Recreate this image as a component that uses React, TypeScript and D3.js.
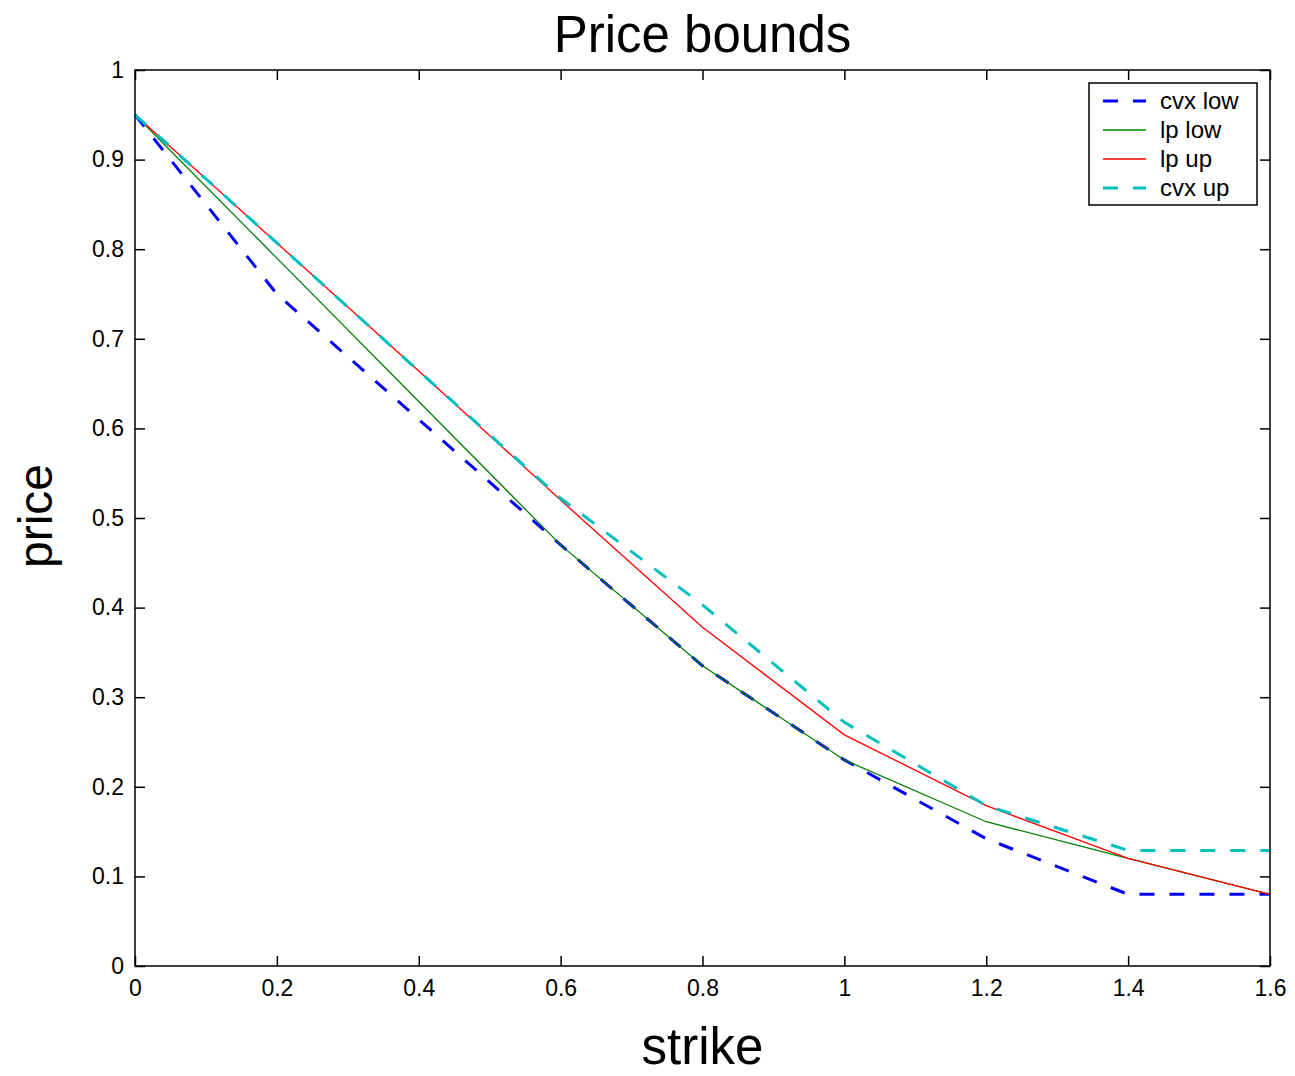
import React, { useRef, useEffect } from 'react';
import * as d3 from 'd3';

// strike grid
const strikes = [0, 0.2, 0.4, 0.6, 0.8, 1.0, 1.2, 1.4, 1.6];

// series values
const cvxLow = [0.95, 0.75, 0.61, 0.47, 0.335, 0.23, 0.142, 0.08, 0.08];
const lpLow = [0.95, 0.79, 0.63, 0.47, 0.335, 0.23, 0.161, 0.12, 0.08];
const lpUp = [0.95, 0.807, 0.664, 0.52, 0.378, 0.258, 0.179, 0.12, 0.08];
const cvxUp = [0.95, 0.807, 0.664, 0.522, 0.403, 0.272, 0.179, 0.129, 0.129];

const xTicks = [0, 0.2, 0.4, 0.6, 0.8, 1, 1.2, 1.4, 1.6];
const yTicks = [0, 0.1, 0.2, 0.3, 0.4, 0.5, 0.6, 0.7, 0.8, 0.9, 1];

const seriesList = [
  { name: 'cvx low', values: cvxLow, color: '#0000ff', width: 3, dash: '15,15' },
  { name: 'lp low', values: lpLow, color: '#008000', width: 1.3, dash: null },
  { name: 'lp up', values: lpUp, color: '#ff0000', width: 1.3, dash: null },
  { name: 'cvx up', values: cvxUp, color: '#00bfbf', width: 3, dash: '15,15' },
];

const FONT = '"Liberation Sans", Arial, Helvetica, sans-serif';

const App = () => {
  const ref = useRef<SVGSVGElement | null>(null);

  useEffect(() => {
    if (!ref.current) return;
    const svg = d3.select(ref.current);
    svg.selectAll('*').remove();

    const W = 1295, H = 1076;
    const margin = { top: 70, right: 25, bottom: 110, left: 135 };
    const width = W - margin.left - margin.right;
    const height = H - margin.top - margin.bottom;

    const x = d3.scaleLinear().domain([0, 1.6]).range([0, width]);
    const y = d3.scaleLinear().domain([0, 1]).range([height, 0]);

    const g = svg.append('g').attr('transform', `translate(${margin.left},${margin.top})`);

    // data lines
    const line = d3.line<number>()
      .x((_, i) => x(strikes[i]))
      .y(d => y(d));

    seriesList.forEach(s => {
      g.append('path')
        .datum(s.values)
        .attr('fill', 'none')
        .attr('stroke', s.color)
        .attr('stroke-width', s.width)
        .attr('stroke-dasharray', s.dash ?? null)
        .attr('d', line);
    });

    // inward ticks on all four sides (matlab style)
    const tickLen = 10;
    const axisLabel = (sel: any) => sel.attr('font-family', FONT).attr('font-size', 23).attr('fill', '#000');

    const bottom = g.append('g')
      .attr('transform', `translate(0,${height})`)
      .call(d3.axisBottom(x).tickValues(xTicks).tickSize(-tickLen).tickPadding(14).tickFormat(d => d3.format('~g')(d as number)));
    axisLabel(bottom.selectAll('text'));
    const top = g.append('g')
      .call(d3.axisTop(x).tickValues(xTicks).tickSize(-tickLen).tickFormat(() => ''));
    const left = g.append('g')
      .call(d3.axisLeft(y).tickValues(yTicks).tickSize(-tickLen).tickPadding(11).tickFormat(d => d3.format('~g')(d as number)));
    axisLabel(left.selectAll('text'));
    const right = g.append('g')
      .attr('transform', `translate(${width},0)`)
      .call(d3.axisRight(y).tickValues(yTicks).tickSize(-tickLen).tickFormat(() => ''));

    [bottom, top, left, right].forEach(a => {
      a.select('.domain').remove();
      a.selectAll('.tick line').attr('stroke', '#000').attr('stroke-width', 1.5);
    });

    // axes box
    g.append('rect')
      .attr('width', width)
      .attr('height', height)
      .attr('fill', 'none')
      .attr('stroke', '#000')
      .attr('stroke-width', 1.5);

    // title and axis labels
    svg.append('text')
      .attr('x', margin.left + width / 2)
      .attr('y', 52)
      .attr('text-anchor', 'middle')
      .attr('font-family', FONT)
      .attr('font-size', 51)
      .text('Price bounds');

    svg.append('text')
      .attr('x', margin.left + width / 2)
      .attr('y', 1064)
      .attr('text-anchor', 'middle')
      .attr('font-family', FONT)
      .attr('font-size', 51)
      .text('strike');

    svg.append('text')
      .attr('transform', `translate(52,${margin.top + height / 2 - 2}) rotate(-90)`)
      .attr('text-anchor', 'middle')
      .attr('font-family', FONT)
      .attr('font-size', 48)
      .text('price');

    // legend
    const lg = svg.append('g').attr('transform', 'translate(1089,83)');
    lg.append('rect')
      .attr('width', 168)
      .attr('height', 122)
      .attr('fill', '#fff')
      .attr('stroke', '#000')
      .attr('stroke-width', 1.5);
    seriesList.forEach((s, i) => {
      const ly = 18 + i * 29;
      lg.append('line')
        .attr('x1', 14).attr('x2', 57)
        .attr('y1', ly).attr('y2', ly)
        .attr('stroke', s.color)
        .attr('stroke-width', s.dash ? 3 : 1.3)
        .attr('stroke-dasharray', s.dash ?? null);
      lg.append('text')
        .attr('x', 71)
        .attr('y', ly + 8)
        .attr('font-family', FONT)
        .attr('font-size', 24)
        .text(s.name);
    });
  }, []);

  return (
    <svg ref={ref} width={1295} height={1076} style={{ display: 'block', margin: -8, background: '#fff' }} />
  );
};

export default App;
